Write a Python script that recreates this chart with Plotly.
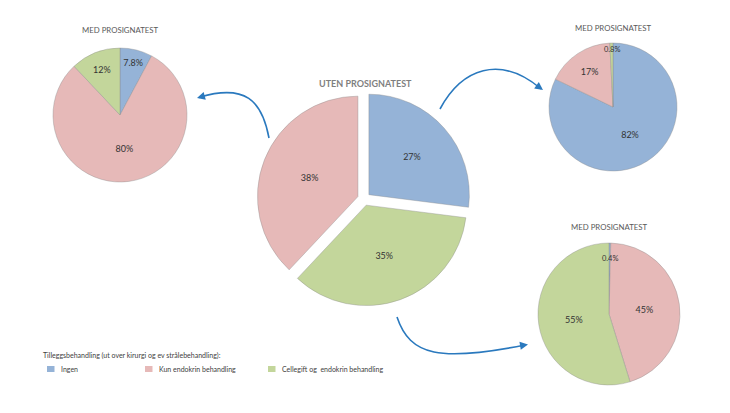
import math
import plotly.graph_objects as go

# Treatment categories and colours (Excel 2007 light palette)
labels = ["Ingen", "Kun endokrin behandling", "Cellegift og  endokrin behandling"]
colors = {"Ingen": "#95B3D7",
          "Kun endokrin behandling": "#E6B9B8",
          "Cellegift og  endokrin behandling": "#C3D69B"}

# Centre pie: without Prosigna test (order: blue, green, pink clockwise from top)
center_labels = ["Ingen", "Cellegift og  endokrin behandling", "Kun endokrin behandling"]
center_values = [27, 35, 38]

# With Prosigna test, one pie per original group
left_values = [7.8, 80, 12]       # from "Kun endokrin" group
right_top_values = [82, 17, 0.8]  # from "Ingen" group
right_bot_values = [0.4, 45, 55]  # from "Cellegift" group

legend_title = "Tilleggsbehandling (ut over kirurgi og ev strålebehandling):"

W, H = 730, 413
OFF = 8  # page body margin: the figure is drawn 8px in from the window edge
FONT = "Lato"


def dom(cx, cy, half):
    # window pixel centre / half size -> paper domain
    cx, cy = cx - OFF, cy - OFF
    return dict(x=[(cx - half) / W, (cx + half) / W],
                y=[1 - (cy + half) / H, 1 - (cy - half) / H])


def pie(lbls, vals, domain, pull=0, small=0.0):
    txt = [f"{v:g}%" if v > small else "" for v in vals]
    return go.Pie(
        labels=lbls, values=vals, domain=domain, sort=False,
        direction="clockwise", rotation=0, pull=pull,
        text=txt, textinfo="text",
        textposition="inside", insidetextorientation="horizontal",
        textfont=dict(family=FONT, size=9, color="#333333"),
        marker=dict(colors=[colors[l] for l in lbls],
                    line=dict(color="rgba(140,140,140,0.55)", width=0.7)),
        hoverinfo="label+percent", showlegend=False,
    )


def small_label(vals, idx, cx, cy, r, frac):
    # label for a very thin slice, placed along its mid angle
    tot = sum(vals)
    mid = (sum(vals[:idx]) + vals[idx] / 2) / tot * 2 * math.pi
    return dict(x=cx + frac * r * math.sin(mid), y=cy - frac * r * math.cos(mid),
                xref="x", yref="y", showarrow=False, text=f"{vals[idx]:g}%",
                font=dict(family=FONT, size=7.5, color="#333333"))


fig = go.Figure()
fig.add_trace(pie(labels, left_values, dom(120, 115, 67)))
fig.add_trace(pie(labels, right_top_values, dom(613, 107, 64), small=1))
fig.add_trace(pie(labels, right_bot_values, dom(609, 314, 71), small=1))
fig.add_trace(pie(center_labels, center_values, dom(364, 199, 107), pull=0.065))

arrow_col = "#2A79BE"
paths = [
    "M 269,138 C 262,100 245,84 200,97",
    "M 440,109 C 462,68 500,55 540,88",
    "M 397,317 C 410,356 440,362 525,345",
]
shapes = [dict(type="path", path=p, xref="x", yref="y",
               line=dict(color=arrow_col, width=1.6)) for p in paths]

annotations = []
# arrow heads along the end tangent of each curve
for (x0, y0, x1, y1) in [(206, 95.5, 197, 98), (536, 85, 543, 90), (519, 346, 528, 344.5)]:
    annotations.append(dict(x=x1, y=y1, ax=x0, ay=y0, xref="x", yref="y",
                            axref="x", ayref="y", text="", showarrow=True,
                            arrowhead=2, arrowsize=1, arrowwidth=1.6,
                            arrowcolor=arrow_col))

titles = [(120, 30, "MED PROSIGNATEST", False),
          (613, 28, "MED PROSIGNATEST", False),
          (609, 227, "MED PROSIGNATEST", False),
          (365, 83, "UTEN PROSIGNATEST", True)]
for x, y, t, bold in titles:
    annotations.append(dict(
        x=x, y=y, xref="x", yref="y", showarrow=False,
        text=f"<b>{t}</b>" if bold else t,
        font=dict(family=FONT, size=9 if bold else 7.8,
                  color="#7F7F7F" if bold else "#595959")))

annotations.append(small_label(right_top_values, 2, 613, 107, 64, 0.9))
annotations.append(small_label(right_bot_values, 0, 609, 314, 71, 0.78))

# legend: heading, swatches and labels
annotations.append(dict(x=41, y=355, xref="x", yref="y", xanchor="left",
                        showarrow=False, text=legend_title,
                        font=dict(family=FONT, size=7, color="#404040")))
for lab, sx in zip(labels, [47, 145, 268]):
    shapes.append(dict(type="rect", xref="x", yref="y", x0=sx, x1=sx + 7.5,
                       y0=366, y1=372, fillcolor=colors[lab], line=dict(width=0)))
    annotations.append(dict(x=sx + 12, y=369, xref="x", yref="y", xanchor="left",
                            showarrow=False, text=lab,
                            font=dict(family=FONT, size=7, color="#404040")))

fig.update_layout(
    width=W, height=H, margin=dict(l=0, r=0, t=0, b=0),
    paper_bgcolor="white", plot_bgcolor="white",
    xaxis=dict(range=[OFF, W + OFF], visible=False, fixedrange=True),
    yaxis=dict(range=[H + OFF, OFF], visible=False, fixedrange=True),
    shapes=shapes, annotations=annotations,
    uniformtext=dict(minsize=9, mode="show"),
    showlegend=False,
)

fig.write_html("out.html")
